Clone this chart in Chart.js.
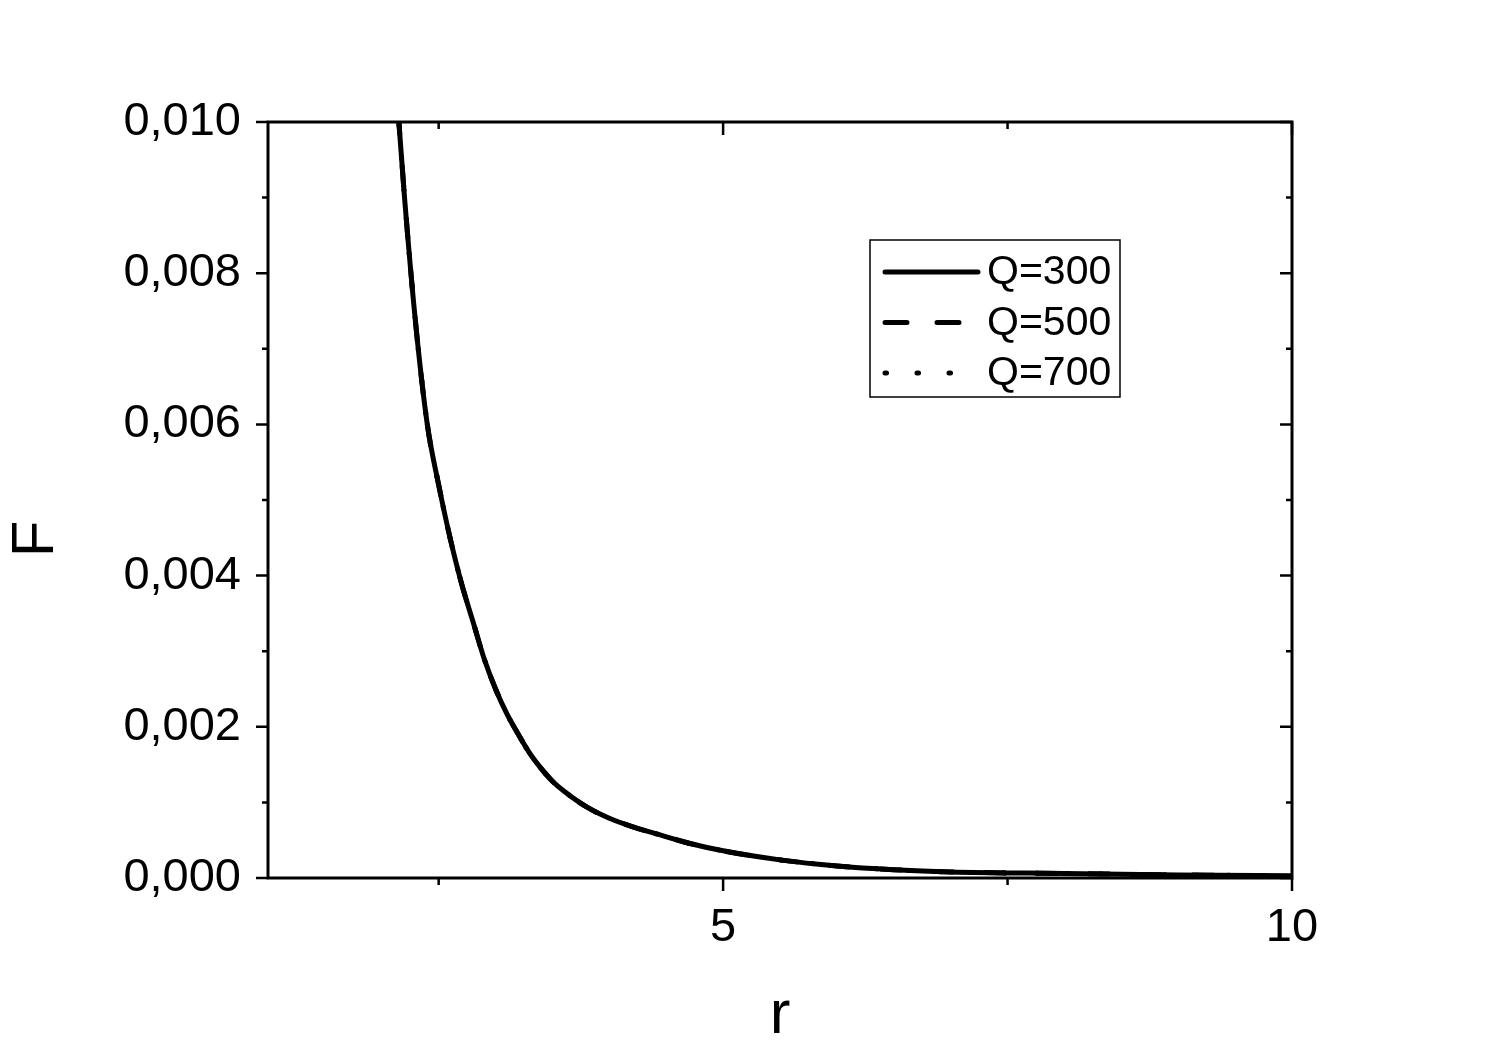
<!DOCTYPE html>
<html>
<head>
    <title>F(r)</title>
    <script src="https://cdn.jsdelivr.net/npm/chart.js"></script>
    <style>
        body {
            margin: 0;
            padding: 0;
            background: #ffffff;
        }
        canvas {
            display: block;
        }
    </style>
</head>
<body>
    <canvas id="chart" width="1500" height="1053"></canvas>

    <script>
        // values (the three curves lie on top of each other)
        const rValues = [2.1, 2.15, 2.2, 2.3, 2.4, 2.5, 2.6, 2.7, 2.8, 2.9, 3.0, 3.1, 3.2, 3.3, 3.4, 3.5, 3.6, 3.8, 4.0, 4.2, 4.4, 4.7, 5.0, 5.5, 6.0, 6.5, 7.0, 8.0, 9.0, 10.0];
        const fQ300 = [0.0108, 0.0100, 0.0090, 0.0073, 0.0060, 0.0052, 0.0045, 0.0039, 0.0034, 0.0029, 0.0025, 0.00217, 0.00190, 0.00165, 0.00145, 0.00128, 0.00115, 0.00094, 0.00079, 0.00068, 0.00059, 0.00046, 0.00036, 0.00024, 0.00016, 0.00011, 0.00008, 0.00006, 0.00004, 0.00003];
        const fQ500 = [0.0108, 0.0100, 0.0090, 0.0073, 0.0060, 0.0052, 0.0045, 0.0039, 0.0034, 0.0029, 0.0025, 0.00217, 0.00190, 0.00165, 0.00145, 0.00128, 0.00115, 0.00094, 0.00079, 0.00068, 0.00059, 0.00046, 0.00036, 0.00024, 0.00016, 0.00011, 0.00008, 0.00006, 0.00004, 0.00003];
        const fQ700 = [0.0108, 0.0100, 0.0090, 0.0073, 0.0060, 0.0052, 0.0045, 0.0039, 0.0034, 0.0029, 0.0025, 0.00217, 0.00190, 0.00165, 0.00145, 0.00128, 0.00115, 0.00094, 0.00079, 0.00068, 0.00059, 0.00046, 0.00036, 0.00024, 0.00016, 0.00011, 0.00008, 0.00006, 0.00004, 0.00003];
        const seriesLabels = ['Q=300', 'Q=500', 'Q=700'];

        const xLabelTicks = [5, 10];
        const xMinorTicks = [2.5, 7.5];
        const yLabelTicks = [0, 0.002, 0.004, 0.006, 0.008, 0.010];
        const yMinorTicks = [0.001, 0.003, 0.005, 0.007, 0.009];

        const font = "'Liberation Sans', Arial, sans-serif";

        function toPoints(ys) {
            return rValues.map((r, i) => ({ x: r, y: ys[i] }));
        }

        // frame, mirrored ticks, F title and legend box, drawn like the Origin plot
        const framePlugin = {
            id: 'frame',
            afterDraw(chart) {
                const ctx = chart.ctx;
                const a = chart.chartArea;
                const xs = chart.scales.x;
                const ys = chart.scales.y;

                ctx.save();
                ctx.strokeStyle = '#000';
                ctx.lineWidth = 3;
                ctx.strokeRect(a.left, a.top, a.right - a.left, a.bottom - a.top);

                ctx.lineWidth = 2.5;
                ctx.beginPath();
                function yTick(v, len) {
                    const p = ys.getPixelForValue(v);
                    ctx.moveTo(a.left - len, p); ctx.lineTo(a.left, p);
                    ctx.moveTo(a.right, p); ctx.lineTo(a.right - len, p);
                }
                function xTick(v, len) {
                    const p = xs.getPixelForValue(v);
                    ctx.moveTo(p, a.bottom); ctx.lineTo(p, a.bottom + len);
                    ctx.moveTo(p, a.top); ctx.lineTo(p, a.top + len);
                }
                yLabelTicks.forEach(v => yTick(v, 12));
                yMinorTicks.forEach(v => yTick(v, 6));
                xLabelTicks.forEach(v => xTick(v, 13));
                xMinorTicks.forEach(v => xTick(v, 7));
                ctx.stroke();

                // y axis title
                ctx.save();
                ctx.translate(53, (a.top + a.bottom) / 2 + 39);
                ctx.rotate(-Math.PI / 2);
                ctx.font = '60px ' + font;
                ctx.fillStyle = '#000';
                ctx.textAlign = 'center';
                ctx.textBaseline = 'alphabetic';
                ctx.fillText('F', 0, 0);
                ctx.restore();

                // legend
                const lx = a.left + 602, ly = a.top + 118, lw = 250, lh = 157;
                ctx.lineWidth = 1.5;
                ctx.fillStyle = '#fff';
                ctx.fillRect(lx, ly, lw, lh);
                ctx.strokeRect(lx, ly, lw, lh);
                ctx.font = '41px ' + font;
                ctx.textBaseline = 'middle';
                chart.data.datasets.forEach((ds, i) => {
                    const yy = ly + 32 + i * 50.5;
                    ctx.beginPath();
                    ctx.lineWidth = ds.borderWidth;
                    ctx.lineCap = 'round';
                    ctx.setLineDash(ds.borderDash || []);
                    ctx.strokeStyle = ds.borderColor;
                    ctx.moveTo(lx + 15, yy);
                    ctx.lineTo(lx + 108, yy);
                    ctx.stroke();
                    ctx.setLineDash([]);
                    ctx.fillStyle = '#000';
                    ctx.fillText(ds.label, lx + 117, yy + 1);
                });
                ctx.restore();
            }
        };

        const ctx = document.getElementById('chart').getContext('2d');
        window.myChart = new Chart(ctx, {
            type: 'line',
            data: {
                datasets: [
                    { label: seriesLabels[0], data: toPoints(fQ300), borderColor: '#000', borderWidth: 5, borderDash: [] },
                    { label: seriesLabels[1], data: toPoints(fQ500), borderColor: '#000', borderWidth: 5, borderDash: [22, 30] },
                    { label: seriesLabels[2], data: toPoints(fQ700), borderColor: '#000', borderWidth: 5, borderDash: [1.5, 30.5], borderCapStyle: 'round' }
                ]
            },
            options: {
                responsive: false,
                animation: false,
                devicePixelRatio: 1,
                layout: { padding: { left: 0, top: 122, right: 208, bottom: 0 } },
                elements: {
                    point: { radius: 0 },
                    line: { cubicInterpolationMode: 'monotone', fill: false }
                },
                plugins: {
                    legend: { display: false },
                    tooltip: { enabled: false }
                },
                scales: {
                    x: {
                        type: 'linear',
                        min: 1,
                        max: 10,
                        grid: { display: false, drawTicks: false },
                        border: { display: false },
                        afterBuildTicks: s => { s.ticks = xLabelTicks.map(v => ({ value: v })); },
                        afterFit: s => { s.height = 175; },
                        ticks: {
                            color: '#000',
                            padding: 22,
                            maxRotation: 0,
                            font: { family: font, size: 47 },
                            callback: v => String(v)
                        },
                        title: {
                            display: true,
                            text: 'r',
                            color: '#000',
                            padding: { top: 18, bottom: 0 },
                            font: { family: font, size: 62 }
                        }
                    },
                    y: {
                        min: 0,
                        max: 0.010,
                        grid: { display: false, drawTicks: false },
                        border: { display: false },
                        afterBuildTicks: s => { s.ticks = yLabelTicks.map(v => ({ value: v })); },
                        afterFit: s => { s.width = 268; },
                        ticks: {
                            color: '#000',
                            padding: 27,
                            font: { family: font, size: 47 },
                            callback: v => v.toFixed(3).replace('.', ',')
                        }
                    }
                }
            },
            plugins: [framePlugin]
        });
    </script>
</body>
</html>
